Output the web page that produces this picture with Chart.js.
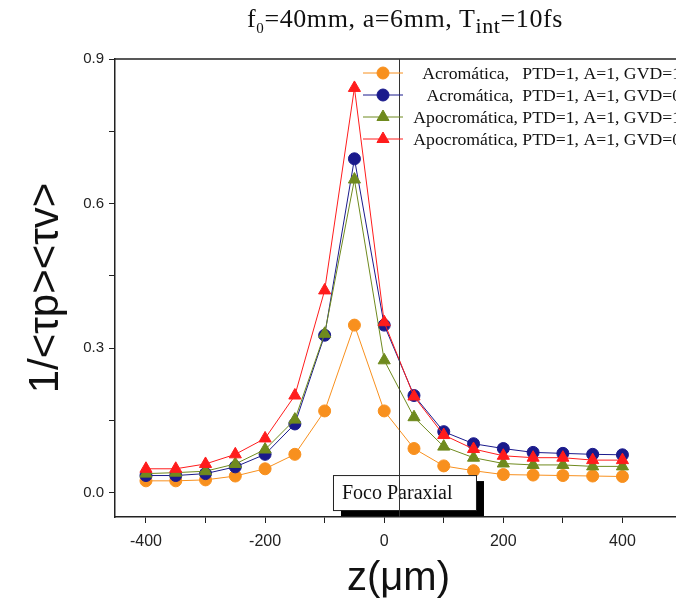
<!DOCTYPE html>
<html>
<head>
<meta charset="utf-8">
<script src="https://cdn.jsdelivr.net/npm/chart.js@4.4.1/dist/chart.umd.min.js"></script>
<style>
html, body { margin: 0; padding: 0; background: #fff; overflow: hidden; }
#wrap { position: relative; width: 690px; height: 599px; }
#titulo {
    position: absolute; left: 247px; top: 4px; white-space: nowrap;
    font-family: "Liberation Serif", serif; font-size: 26px; letter-spacing: 0.6px; color: #111;
}
#titulo sub.zero { font-size: 15px; }
#titulo sub.int { font-size: 22px; vertical-align: -6px; }
</style>
</head>
<body>
<div id="wrap">
    <div id="titulo">f<sub class="zero">0</sub>=40mm, a=6mm, T<sub class="int">int</sub>=10fs</div>
    <canvas id="grafico" width="690" height="599"></canvas>
</div>
<script>
// Posicoes z (um)
const zValores = [-400, -350, -300, -250, -200, -150, -100, -50, 0, 50, 100, 150, 200, 250, 300, 350, 400];

// 1/<tp><tv> para cada curva
const acroGVD1 = [0.025, 0.025, 0.027, 0.035, 0.050, 0.080, 0.170, 0.348, 0.170, 0.092, 0.056, 0.046, 0.038, 0.037, 0.036, 0.035, 0.034];
const acroGVD0 = [0.036, 0.036, 0.040, 0.054, 0.080, 0.143, 0.327, 0.693, 0.348, 0.202, 0.127, 0.102, 0.092, 0.084, 0.082, 0.080, 0.079];
const apoGVD1 = [0.040, 0.042, 0.045, 0.060, 0.090, 0.152, 0.330, 0.650, 0.275, 0.157, 0.096, 0.073, 0.061, 0.058, 0.058, 0.055, 0.055];
const apoGVD0 = [0.050, 0.050, 0.060, 0.080, 0.113, 0.202, 0.420, 0.840, 0.354, 0.200, 0.120, 0.091, 0.077, 0.073, 0.073, 0.068, 0.068];

const nomesSeries = [
    'Acromática,   PTD=1, A=1, GVD=1',
    'Acromática,  PTD=1, A=1, GVD=0',
    'Apocromática, PTD=1, A=1, GVD=1',
    'Apocromática, PTD=1, A=1, GVD=0'
];

const ticksX = [-400, -300, -200, -100, 0, 100, 200, 300, 400];
const rotulosX = [-400, -200, 0, 200, 400];
const ticksY = [0, 0.15, 0.3, 0.45, 0.6, 0.75, 0.9];
const rotulosY = [0, 0.3, 0.6, 0.9];

const focoParaxial = 25; // posicao da linha vertical

const cores = ['#F8901E', '#1A1A8C', '#6F8A1E', '#FF1C1C'];
const estilos = ['circle', 'circle', 'triangle', 'triangle'];
const raios = [6, 6, 7, 7];

function pontos(valores) {
    return zValores.map((z, i) => ({ x: z, y: valores[i] }));
}

const series = [acroGVD1, acroGVD0, apoGVD1, apoGVD0];
const datasets = series.map((valores, i) => ({
    label: nomesSeries[i],
    data: pontos(valores),
    borderColor: cores[i],
    backgroundColor: cores[i],
    borderWidth: 1,
    pointStyle: estilos[i],
    pointRadius: raios[i],
    pointBorderWidth: 1,
    tension: 0,
    order: 4 - i
}));

// Moldura superior, caixa "Foco Paraxial", linha vertical e legenda
const extras = {
    id: 'extras',
    afterDatasetsDraw(chart) {
        const ctx = chart.ctx;
        const area = chart.chartArea;
        const sx = chart.scales.x;
        const sy = chart.scales.y;
        ctx.save();

        // borda de cima e da direita
        ctx.strokeStyle = '#222';
        ctx.lineWidth = 1.5;
        ctx.beginPath();
        ctx.moveTo(area.left, area.top);
        ctx.lineTo(area.right, area.top);
        ctx.lineTo(area.right, area.bottom);
        ctx.stroke();

        // caixa Foco Paraxial
        const bx = sx.getPixelForValue(-86);
        const by = sy.getPixelForValue(0.037);
        const bw = 143, bh = 35;
        ctx.fillStyle = '#000';
        ctx.fillRect(bx + 8, by + 6, bw, bh);
        ctx.fillStyle = '#fff';
        ctx.fillRect(bx, by, bw, bh);
        ctx.strokeStyle = '#222';
        ctx.lineWidth = 1;
        ctx.strokeRect(bx + 0.5, by + 0.5, bw, bh);
        ctx.fillStyle = '#111';
        ctx.font = '20px "Liberation Serif"';
        ctx.textAlign = 'left';
        ctx.textBaseline = 'middle';
        ctx.fillText('Foco Paraxial', bx + 9, by + bh / 2 + 1);

        // linha do foco paraxial
        const fx = Math.round(sx.getPixelForValue(focoParaxial)) + 0.5;
        ctx.strokeStyle = '#333';
        ctx.lineWidth = 1;
        ctx.beginPath();
        ctx.moveTo(fx, area.top);
        ctx.lineTo(fx, area.bottom);
        ctx.stroke();

        // legenda
        ctx.font = '17.7px "Liberation Serif"';
        ctx.textAlign = 'right';
        ctx.textBaseline = 'middle';
        nomesSeries.forEach((nome, i) => {
            const y = area.top + 14 + i * 22;
            ctx.strokeStyle = cores[i];
            ctx.lineWidth = 1;
            ctx.beginPath();
            ctx.moveTo(363, y);
            ctx.lineTo(403, y);
            ctx.stroke();
            ctx.fillStyle = cores[i];
            Chart.helpers.drawPoint(ctx, {
                pointStyle: estilos[i], radius: raios[i], rotation: 0, borderWidth: 1
            }, 383, y);
            ctx.fillStyle = '#111';
            ctx.fillText(nome, 681, y + 1);
        });
        ctx.restore();
    }
};

new Chart(document.getElementById('grafico'), {
    type: 'line',
    data: { datasets: datasets },
    options: {
        responsive: false,
        animation: false,
        layout: { padding: { top: 59, right: 8, left: 0, bottom: 0 } },
        plugins: {
            legend: { display: false },
            tooltip: { enabled: false }
        },
        scales: {
            x: {
                type: 'linear',
                min: -452,
                max: 500,
                afterBuildTicks: s => { s.ticks = ticksX.map(v => ({ value: v })); },
                afterFit: s => { s.height = 82; },
                border: { color: '#222', width: 1.5 },
                grid: { drawOnChartArea: false, drawTicks: true, tickLength: 6, color: '#222' },
                ticks: {
                    padding: 9,
                    color: '#222',
                    font: { family: 'Liberation Sans', size: 16 },
                    callback: v => rotulosX.includes(v) ? String(v) : ''
                },
                title: {
                    display: true,
                    text: 'z(μm)',
                    color: '#111',
                    font: { family: 'Liberation Sans', size: 40, lineHeight: 1 },
                    padding: { top: 0, bottom: 0 }
                }
            },
            y: {
                type: 'linear',
                min: -0.05,
                max: 0.9,
                afterBuildTicks: s => { s.ticks = ticksY.map(v => ({ value: v })); },
                afterFit: s => { s.width = 115; },
                border: { color: '#222', width: 1.5 },
                grid: { drawOnChartArea: false, drawTicks: true, tickLength: 6, color: '#222' },
                ticks: {
                    padding: 5,
                    color: '#222',
                    font: { family: 'Liberation Sans', size: 15 },
                    callback: v => rotulosY.includes(v) ? v.toFixed(1) : ''
                },
                title: {
                    display: true,
                    text: '1/<τp><τv>',
                    color: '#111',
                    font: { family: 'Liberation Sans', size: 42, lineHeight: 1 },
                    padding: { top: 25, bottom: 0 }
                }
            }
        }
    },
    plugins: [extras]
});
</script>
</body>
</html>
